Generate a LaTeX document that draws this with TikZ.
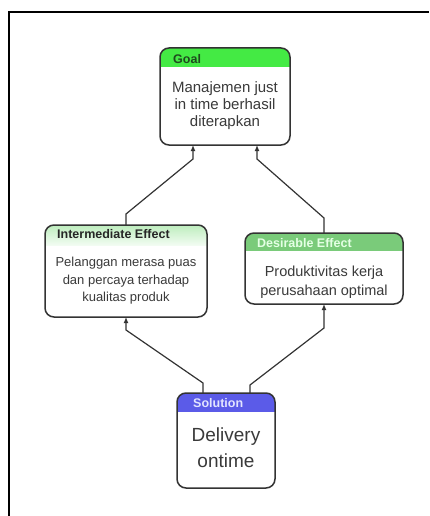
\documentclass[tikz,border=0pt]{standalone}
\usepackage{fontspec}
\setmainfont{Liberation Sans}
\usetikzlibrary{arrows.meta}

\definecolor{edgegray}{HTML}{333333}
\definecolor{bodygray}{HTML}{3A3A3A}
\definecolor{goalgreen}{HTML}{44EA44}
\definecolor{goalink}{HTML}{1E4A1E}
\definecolor{midtop}{HTML}{BDEDBD}
\definecolor{midbottom}{HTML}{F2FCF2}
\definecolor{desgreen}{HTML}{7ACB7A}
\definecolor{desink}{HTML}{E4FFE4}
\definecolor{solblue}{HTML}{5B5BE8}
\definecolor{solink}{HTML}{E2E4FF}

\tikzset{
  card/.style={draw=edgegray, line width=1.5pt, rounded corners=9pt,
    rectangle, inner sep=0pt, outer sep=0pt},
  cardfill/.style={fill=white, rounded corners=9pt},
  headtext/.style={anchor=west, inner sep=0pt, font=\bfseries\fontsize{12.5}{14}\selectfont},
  bodytext/.style={align=center, inner sep=0pt, text=bodygray},
  conn/.style={draw=edgegray, line width=1.2pt, -{Latex[length=6pt,width=5pt]}},
}

\begin{document}
\begin{tikzpicture}[x=1pt, y=-1pt]
\useasboundingbox (0,0) rectangle (429,516);

% outer frame
\draw[black, line width=1.4pt] (9,516) -- (9,12) -- (429,12);

% box outlines (named shapes)
\path
  node[minimum width=130pt, minimum height=97pt, inner sep=0pt, outer sep=0pt] (goal)  at (225,96.5)  {}
  node[minimum width=162pt, minimum height=92pt, inner sep=0pt, outer sep=0pt] (inter) at (126,271)   {}
  node[minimum width=158pt, minimum height=71pt, inner sep=0pt, outer sep=0pt] (desir) at (324,268.5) {}
  node[minimum width=98pt,  minimum height=95pt, inner sep=0pt, outer sep=0pt] (sol)   at (226,440.5) {};

% white bodies and coloured headers
\foreach \b/\h/\col in {goal/19/goalgreen, desir/18/desgreen, sol/19/solblue}{
  \fill[cardfill] (\b.south west) rectangle (\b.north east);
  \begin{scope}
    \clip[rounded corners=9pt] (\b.south west) rectangle (\b.north east);
    \fill[\col] (\b.north west) rectangle ([yshift=-\h pt]\b.north east);
  \end{scope}
}
\fill[cardfill] (inter.south west) rectangle (inter.north east);
\begin{scope}
  \clip[rounded corners=9pt] (inter.south west) rectangle (inter.north east);
  \shade[top color=midtop, bottom color=midbottom]
    (inter.north west) rectangle ([yshift=-20pt]inter.north east);
\end{scope}

% borders
\foreach \b in {goal, inter, desir, sol}{
  \draw[card] (\b.south west) rectangle (\b.north east);
}

% header labels
\node[headtext, text=goalink] (goalhead) at (173,59) {Goal};
\node[headtext, text=black!85] (interhead) at (57,234.5) {Intermediate Effect};
\node[headtext, text=desink] (desirhead) at (257,243) {Desirable Effect};
\node[headtext, text=solink] (solhead) at (193,403) {Solution};

% body texts
\node[bodytext, font=\fontsize{15}{17}\selectfont] (goalbody) at (225,106)
  {Manajemen just\\in time berhasil\\diterapkan};
\node[bodytext, font=\fontsize{13}{17.5}\selectfont] (interbody) at (126,281)
  {Pelanggan merasa puas\\dan percaya terhadap\\kualitas produk};
\node[bodytext, font=\fontsize{14.5}{19}\selectfont] (desirbody) at (324,282.5)
  {Produktivitas kerja\\perusahaan optimal};
\node[bodytext, font=\fontsize{19}{26}\selectfont] (solbody) at (226,448)
  {Delivery\\ontime};

% connectors
\draw[conn] (inter.north) -- (126,214) -- (193,159) -- ([xshift=-32pt]goal.south);
\draw[conn] (desir.north) -- (324,218) -- (257,159) -- ([xshift=32pt]goal.south);
\draw[conn] ([xshift=-23pt]sol.north) -- (203,383) -- (126,330) -- (inter.south);
\draw[conn] ([xshift=24pt]sol.north) -- (250,385) -- (324,328) -- (desir.south);
\end{tikzpicture}
\end{document}
